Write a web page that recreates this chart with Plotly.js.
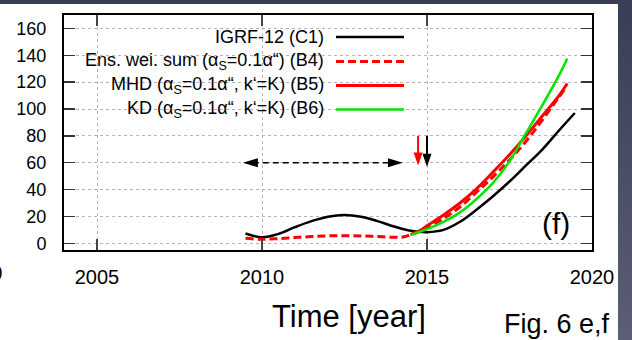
<!DOCTYPE html>
<html><head><meta charset="utf-8">
<script src="https://cdn.plot.ly/plotly-3.0.1.min.js"></script>
<style>
html,body{margin:0;padding:0;width:632px;height:340px;overflow:hidden;}
body{background:linear-gradient(180deg,#3a3e54 0%,#5b5e74 100%);}
#chart{position:absolute;left:0;top:4px;width:618px;height:336px;background:#fff;}
</style></head><body><div id="chart"></div>
<script>
// ---- data ----
const xTicks = [2005, 2010, 2015, 2020];
const yTicks = [0, 20, 40, 60, 80, 100, 120, 140, 160];

const seriesNames = [
  'IGRF-12 (C1)',
  'Ens. wei. sum (α<sub>S</sub>=0.1α“) (B4)',
  'MHD (α<sub>S</sub>=0.1α“, k‘=K) (B5)',
  'KD (α<sub>S</sub>=0.1α“, k‘=K) (B6)'
];

const c1Year = [2009.5, 2010.0, 2010.5, 2011.0, 2011.5, 2012.0, 2012.5, 2013.0, 2013.5, 2014.0, 2014.5, 2015.0, 2015.5, 2016.0, 2016.5, 2017.0, 2017.5, 2018.0, 2018.5, 2019.0, 2019.48];
const c1Val  = [7.3, 4.5, 7.0, 12, 16.5, 19.8, 21, 19.8, 16.5, 12.5, 9.3, 8.3, 10, 16, 25, 35, 46, 58, 70, 84, 97];

const b4Year = [2009.5, 2010.0, 2010.5, 2011.0, 2011.5, 2012.0, 2012.5, 2013.0, 2013.5, 2014.0, 2014.3, 2014.55, 2014.8, 2015.0, 2015.5, 2016.0, 2016.5, 2017.0, 2017.5, 2018.0, 2018.5, 2019.0, 2019.18];
const b4Val  = [3.7, 3.0, 3.5, 4.3, 5.0, 5.5, 5.7, 5.5, 5.0, 4.5, 4.8, 6.8, 8.8, 11.5, 18.5, 27, 38, 49.5, 62, 76, 92, 109, 115];

const b5Year = [2014.5, 2014.75, 2015.0, 2015.5, 2016.0, 2016.5, 2017.0, 2017.5, 2018.0, 2018.5, 2019.0, 2019.25];
const b5Val  = [6.5, 9.0, 13.0, 21, 30, 40.5, 53, 66, 80, 95, 110, 119];

const b6Year = [2014.5, 2014.75, 2015.0, 2015.5, 2016.0, 2016.5, 2017.0, 2017.5, 2018.0, 2018.5, 2019.0, 2019.25];
const b6Val  = [6.2, 8.3, 10.5, 16, 23, 33, 45, 61, 82, 103, 125, 137.5];

// interval arrow and epoch markers
const spanYears = [2009.42, 2014.27];
const spanLevel = 60;
const markYears = [2014.73, 2015.0];
const markTop = 80;
const markTip = [58, 57];
const markColors = ['#ff0000', '#000000'];

// ---- drawing ----
const FONT = '"Liberation Sans", Arial, Helvetica, sans-serif';
const colors = ['#000000', '#ff0000', '#ff0000', '#00e600'];
const dashes = ['solid', '8px,4px', 'solid', 'solid'];
const widths = [2.5, 3, 3, 2.5];
const xs = [c1Year, b4Year, b5Year, b6Year];
const ys = [c1Val, b4Val, b5Val, b6Val];

const traces = [];
for (let i = 0; i < 4; i++) {
  traces.push({
    type: 'scatter', mode: 'lines', name: seriesNames[i],
    x: xs[i], y: ys[i],
    line: {color: colors[i], width: widths[i], dash: dashes[i], shape: 'spline', smoothing: 1},
    hoverinfo: 'skip'
  });
}
// dashed double arrow shaft
traces.push({
  type: 'scatter', mode: 'lines', showlegend: false, hoverinfo: 'skip',
  x: [spanYears[0] + 0.3, spanYears[1] - 0.3], y: [spanLevel, spanLevel],
  line: {color: '#000', width: 1.5, dash: '6px,4px'}
});
// vertical arrow shafts
for (let i = 0; i < 2; i++) {
  traces.push({
    type: 'scatter', mode: 'lines', showlegend: false, hoverinfo: 'skip',
    x: [markYears[i], markYears[i]], y: [markTop, markTip[i] + 5],
    line: {color: markColors[i], width: 2}
  });
}

const shapes = [
  // opaque key box hiding the grid
  {type: 'rect', xref: 'paper', yref: 'paper', x0: 0, x1: 0.6705, y0: 0.4979, y1: 1,
   fillcolor: '#fff', line: {width: 0}, layer: 'between'},
  {type: 'rect', xref: 'paper', yref: 'paper', x0: 0, x1: 0.5133, y0: 0.4787, y1: 0.4979,
   fillcolor: '#fff', line: {width: 0}, layer: 'between'},
  // arrow heads of the interval arrow
  {type: 'path', xref: 'x', yref: 'y', xsizemode: 'pixel', ysizemode: 'pixel',
   xanchor: spanYears[0], yanchor: spanLevel, path: 'M0,0 L15,4.5 L15,-4.5 Z',
   fillcolor: '#000', line: {width: 0}},
  {type: 'path', xref: 'x', yref: 'y', xsizemode: 'pixel', ysizemode: 'pixel',
   xanchor: spanYears[1], yanchor: spanLevel, path: 'M0,0 L-15,4.5 L-15,-4.5 Z',
   fillcolor: '#000', line: {width: 0}}
];
for (let i = 0; i < 2; i++) {
  shapes.push({type: 'path', xref: 'x', yref: 'y', xsizemode: 'pixel', ysizemode: 'pixel',
    xanchor: markYears[i], yanchor: markTip[i], path: 'M0,0 L-4.5,13 L4.5,13 Z',
    fillcolor: markColors[i], line: {width: 0}});
}

// manual key: text right-aligned, sample to its right
const keyY = [0.9064, 0.8021, 0.70, 0.5979];
const annotations = [];
for (let i = 0; i < 4; i++) {
  annotations.push({xref: 'paper', yref: 'paper', x: 0.4962, y: keyY[i], xanchor: 'right', yanchor: 'middle',
    text: seriesNames[i], showarrow: false, font: {size: 18, color: '#000', family: FONT}});
  shapes.push({type: 'line', xref: 'paper', yref: 'paper', x0: 0.5152, x1: 0.6439, y0: keyY[i], y1: keyY[i],
    line: {color: colors[i], width: widths[i], dash: dashes[i]}});
}
annotations.push(
  {xref: 'paper', yref: 'paper', x: 0.9318, y: 0.1128, xanchor: 'center', yanchor: 'middle',
   text: '(f)', showarrow: false, font: {size: 30, color: '#000', family: FONT}},
  {xref: 'paper', yref: 'paper', x: 0.5407, y: -0.2830, xanchor: 'center', yanchor: 'middle',
   text: 'Time [year]', showarrow: false, font: {size: 31, color: '#000', family: FONT}},
  {xref: 'paper', yref: 'paper', x: 0.8295, y: -0.3149, xanchor: 'left', yanchor: 'middle',
   text: 'Fig. 6 e,f', showarrow: false, font: {size: 27, color: '#000', family: FONT}},
  {xref: 'paper', yref: 'paper', x: -0.1117, y: -0.0979, xanchor: 'right', yanchor: 'middle',
   text: '2020', showarrow: false, font: {size: 20, color: '#000', family: FONT}}
);

const layout = {
  width: 618, height: 336,
  margin: {l: 64, r: 26, t: 11, b: 90},
  paper_bgcolor: '#ffffff', plot_bgcolor: '#ffffff',
  showlegend: false,
  font: {family: FONT, color: '#000'},
  xaxis: {
    range: [2004, 2020], tickvals: xTicks, ticks: 'inside', ticklen: 11, tickwidth: 1.5, tickcolor: '#444',
    showline: true, linecolor: '#000', linewidth: 2, mirror: 'ticks',
    showgrid: true, gridcolor: '#b4b4b4', griddash: 'dot', gridwidth: 1, zeroline: false,
    tickfont: {size: 20, color: '#000'}, ticklabelstandoff: 8
  },
  yaxis: {
    range: [-5, 170], tickvals: yTicks, ticks: 'inside', ticklen: 11, tickwidth: 1.5, tickcolor: '#333',
    showline: true, linecolor: '#000', linewidth: 2, mirror: 'ticks',
    showgrid: true, gridcolor: '#b4b4b4', griddash: 'dot', gridwidth: 1, zeroline: false,
    tickfont: {size: 18, color: '#000'}, ticklabelstandoff: 12
  },
  shapes: shapes,
  annotations: annotations
};

Plotly.newPlot('chart', traces, layout, {staticPlot: true, displayModeBar: false});
</script></body></html>
